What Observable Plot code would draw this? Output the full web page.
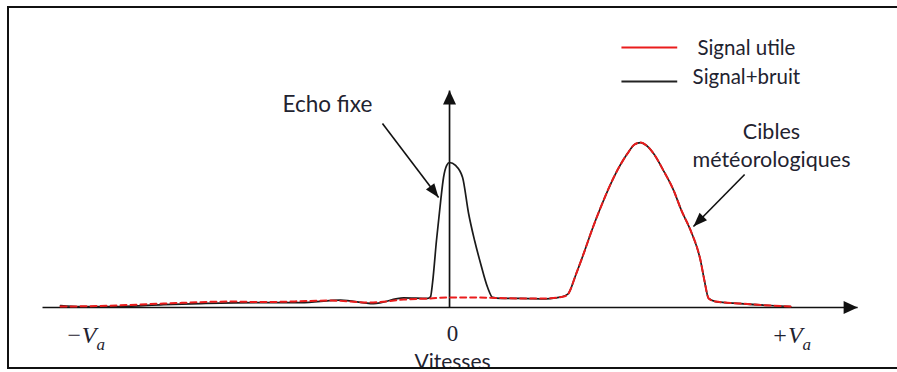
<!DOCTYPE html>
<html>
<head>
<meta charset="utf-8">
<script src="https://cdn.jsdelivr.net/npm/d3@7"></script>
<script src="https://cdn.jsdelivr.net/npm/@observablehq/plot@0.6"></script>
<style>
  html, body { margin: 0; padding: 0; background: #fff; }
  #wrap { position: relative; width: 897px; height: 372px; overflow: hidden; }
  #frame { position: absolute; left: 7px; top: 6px; width: 900px; height: 359px;
           border: 2px solid #111; border-right: none; pointer-events: none; }
  #chart { position: absolute; left: 0; top: 0; }
</style>
</head>
<body>
<div id="wrap"><div id="chart"></div><div id="frame"></div></div>
<script>
// Doppler spectrum: velocity in units of Va, amplitude normalised to the weather peak
const bruitVitesse = [-1.102, -1.045, -0.932, -0.810, -0.705, -0.527, -0.422, -0.309, -0.215, -0.130,
  -0.062, -0.054, -0.048, -0.037, -0.025, -0.017, -0.008, 0.000, 0.017, 0.037, 0.054, 0.071, 0.088,
  0.108, 0.122, 0.144, 0.201, 0.272, 0.300, 0.329, 0.337, 0.357, 0.380, 0.405, 0.428, 0.465, 0.504,
  0.524, 0.541, 0.558, 0.578, 0.606, 0.635, 0.657, 0.683, 0.711, 0.722, 0.734, 0.754, 0.824, 0.909, 0.966];
const bruitAmplitude = [0.012, 0.006, 0.006, 0.018, 0.024, 0.030, 0.030, 0.045, 0.024, 0.058,
  0.055, 0.064, 0.152, 0.406, 0.648, 0.788, 0.861, 0.879, 0.861, 0.788, 0.570, 0.406, 0.267,
  0.121, 0.061, 0.055, 0.055, 0.052, 0.058, 0.073, 0.085, 0.194, 0.327, 0.479, 0.606, 0.788, 0.933,
  0.988, 1.000, 0.982, 0.933, 0.830, 0.709, 0.588, 0.467, 0.285, 0.164, 0.055, 0.036, 0.024, 0.012, 0.006];

const utileVitesse = [-1.102, -0.989, -0.810, -0.620, -0.527, -0.337, -0.224, -0.130, -0.054, -0.006,
  0.059, 0.130, 0.201, 0.272, 0.329, 0.337, 0.357, 0.380, 0.405, 0.428, 0.465, 0.504, 0.524, 0.541,
  0.558, 0.578, 0.606, 0.635, 0.657, 0.683, 0.711, 0.722, 0.734, 0.754, 0.824, 0.909, 0.966];
const utileAmplitude = [0.006, 0.009, 0.024, 0.036, 0.033, 0.042, 0.030, 0.048, 0.055, 0.061,
  0.061, 0.058, 0.055, 0.055, 0.070, 0.085, 0.194, 0.327, 0.479, 0.606, 0.788, 0.933, 0.988, 1.000,
  0.982, 0.933, 0.830, 0.709, 0.588, 0.467, 0.285, 0.164, 0.055, 0.036, 0.024, 0.012, 0.006];

const tickValues = [-1, 0, 1];
const tickLabels = ["−V", "0", "+V"];
const tickSubscripts = ["a", "", "a"];
const legendLabels = ["Signal utile", "Signal+bruit"];
const legendColors = ["#ea1c1c", "#222"];

const W = 897, H = 372;
const xDomain = [-1.272, 1.269];
const yDomain = [-0.394, 1.861];
const sx = Plot.scale({x: {domain: xDomain, range: [0, W]}});
const sy = Plot.scale({y: {domain: yDomain, range: [H, 0]}});

const bruit = bruitVitesse.map((v, i) => ({v, a: bruitAmplitude[i]}));
const utile = utileVitesse.map((v, i) => ({v, a: utileAmplitude[i]}));
const ticks = tickValues.map((v, i) => ({v, label: tickLabels[i], sub: tickSubscripts[i]}));

// filled arrowhead whose tip sits on the anchor point, pointing up before rotation
const head = (len, wid) => ({
  draw(ctx, size) {
    const r = Math.sqrt(size / Math.PI);
    ctx.moveTo(0, 0);
    ctx.lineTo(r * wid / 2, r * len);
    ctx.lineTo(-r * wid / 2, r * len);
    ctx.closePath();
  }
});
const angle = (d) => {
  const dx = sx.apply(d.x2) - sx.apply(d.x1);
  const dy = sy.apply(d.y2) - sy.apply(d.y1);
  return Math.atan2(dx, -dy) * 180 / Math.PI;
};

// axes (with arrowheads) and annotation pointers
const axes = [
  {x1: -1.153, y1: 0, x2: 1.156, y2: 0},
  {x1: 0, y1: 0, x2: 0, y2: 1.315}
];
const pointers = [
  {x1: -0.190, y1: 1.115, x2: -0.031, y2: 0.667},
  {x1: 0.836, y1: 0.806, x2: 0.691, y2: 0.491}
];

const sans = "Lato, 'Open Sans', sans-serif";
const serif = "'Liberation Serif', 'DejaVu Serif', serif";
const ink = "#1f2330";

const chart = Plot.plot({
  width: W, height: H,
  margin: 0,
  x: {domain: xDomain, axis: null},
  y: {domain: yDomain, axis: null},
  style: {background: "transparent"},
  marks: [
    Plot.link(axes, {x1: "x1", y1: "y1", x2: "x2", y2: "y2", stroke: "#111", strokeWidth: 1.7}),
    Plot.dot(axes, {x: "x2", y: "y2", r: 5, symbol: head(2.8, 2.6), rotate: angle, fill: "#111", stroke: "none"}),
    Plot.link(pointers, {x1: "x1", y1: "y1", x2: "x2", y2: "y2", stroke: "#111", strokeWidth: 1.6}),
    Plot.dot(pointers, {x: "x2", y: "y2", r: 5, symbol: head(2.8, 2.1), rotate: angle, fill: "#111", stroke: "none"}),

    Plot.line(bruit, {x: "v", y: "a", curve: "monotone-x", stroke: "#1a1a1a", strokeWidth: 1.7}),
    Plot.line(utile, {x: "v", y: "a", curve: "monotone-x", stroke: legendColors[0], strokeWidth: 2, strokeDasharray: "6,4"}),

    // tick labels on the velocity axis
    Plot.text(ticks.filter(d => d.sub), {x: "v", y: -0.218, text: "label", textAnchor: "end", lineAnchor: "bottom",
      fontFamily: serif, fontStyle: "italic", fontSize: 24, fill: ink}),
    Plot.text(ticks.filter(d => d.sub), {x: "v", y: -0.255, text: "sub", textAnchor: "start", lineAnchor: "bottom", dx: 0,
      fontFamily: serif, fontStyle: "italic", fontSize: 17, fill: ink}),
    Plot.text(ticks.filter(d => !d.sub), {x: "v", y: -0.206, text: "label", dx: 3, lineAnchor: "bottom",
      fontFamily: serif, fontSize: 23, fill: ink}),
    Plot.text(["Vitesses"], {x: 0, y: -0.37, text: d => d, dx: 3, lineAnchor: "bottom",
      fontFamily: sans, fontSize: 21, fill: ink}),

    // annotations
    Plot.text(["Echo fixe"], {x: -0.346, y: 1.23, text: d => d, fontFamily: sans, fontSize: 22.5, fill: ink}),
    Plot.text(["Cibles", "météorologiques"], {x: 0.912, y: (d, i) => [1.061, 0.891][i], text: d => d,
      fontFamily: sans, fontSize: 21.5, fill: ink}),

    // legend
    Plot.link(legendLabels, {x1: 0.487, x2: 0.645, y1: (d, i) => [1.576, 1.370][i], y2: (d, i) => [1.576, 1.370][i],
      stroke: (d, i) => legendColors[i], strokeWidth: 2}),
    Plot.text(legendLabels, {x: 0.841, y: (d, i) => [1.57, 1.394][i], text: d => d,
      fontFamily: sans, fontSize: 20.5, fill: ink})
  ]
});
document.getElementById("chart").append(chart);
</script>
</body>
</html>
